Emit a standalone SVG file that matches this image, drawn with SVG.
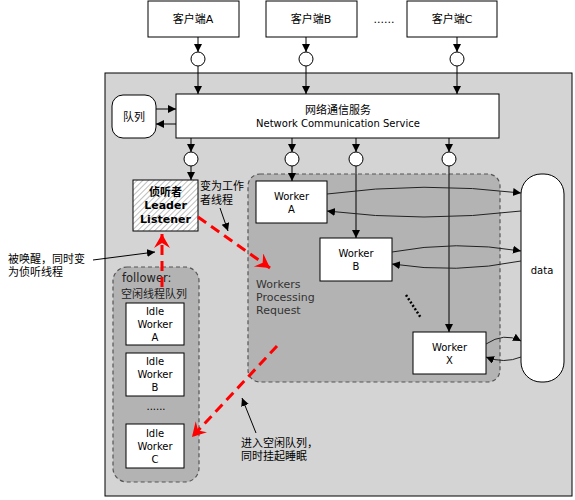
<svg xmlns="http://www.w3.org/2000/svg" width="575" height="500" viewBox="0 0 575 500">
<style>
.t{font-family:"DejaVu Sans","Noto Sans CJK SC",sans-serif;font-size:10px;fill:#000;text-anchor:middle}
.c{font-family:"DejaVu Sans","Noto Sans CJK SC",sans-serif;font-size:11px;fill:#000}
.box{fill:#fff;stroke:#000;stroke-width:1}
.area{fill:#b3b3b3;stroke:#555;stroke-width:1.2;stroke-dasharray:4,3}
.cir{fill:#fff;stroke:#000;stroke-width:1}
.ln{fill:none;stroke:#000;stroke-width:1;marker-end:url(#ah)}
.cv{fill:none;stroke:#222;stroke-width:1;marker-end:url(#ah)}
.red{fill:none;stroke:#f00;stroke-width:3;stroke-dasharray:10,6;marker-end:url(#rh)}
</style>
<defs>
<marker id="ah" markerUnits="userSpaceOnUse" markerWidth="10" markerHeight="10" refX="8" refY="4" orient="auto">
<path d="M0,0 L8,4 L0,8 z" fill="#000"/>
</marker>
<marker id="rh" markerUnits="userSpaceOnUse" markerWidth="20" markerHeight="20" refX="14" refY="8" orient="auto">
<path d="M0,0 L14,8 L0,16 L5,8 z" fill="#f00"/>
</marker>
<pattern id="hatch" patternUnits="userSpaceOnUse" width="4" height="4" patternTransform="rotate(45)">
<rect width="4" height="4" fill="#fff"/>
<line x1="0" y1="0" x2="0" y2="4" stroke="#aaa" stroke-width="1.5"/>
</pattern>
</defs>
<rect width="575" height="500" fill="#fff"/>
<rect id="system" x="105" y="73" width="467" height="423" fill="#d4d4d4" stroke="#000" stroke-width="1"/>
<g id="workers-area">
<rect class="area" x="248" y="174" width="252" height="208" rx="12"/>
<text x="256" y="288" style="font-family:'DejaVu Sans',sans-serif;font-size:11px;fill:#333">Workers</text>
<text x="256" y="301" style="font-family:'DejaVu Sans',sans-serif;font-size:11px;fill:#333">Processing</text>
<text x="256" y="314" style="font-family:'DejaVu Sans',sans-serif;font-size:11px;fill:#333">Request</text>
</g>
<g id="follower-area">
<rect class="area" x="113" y="267" width="86" height="215" rx="14"/>
<text class="c" x="122" y="282" style="font-size:11.5px;fill:#222">follower:</text>
<text class="c" x="121" y="298" style="fill:#222">空闲线程队列</text>
</g>
<g id="clientA"><rect class="box" x="148" y="1" width="91" height="36"/><text class="t" x="193" y="23" style="font-size:11px">客户端A</text></g>
<g id="clientB"><rect class="box" x="266" y="1" width="91" height="36"/><text class="t" x="311" y="23" style="font-size:11px">客户端B</text></g>
<text class="t" x="384" y="23" style="font-size:11px">......</text>
<g id="clientC"><rect class="box" x="407" y="1" width="90" height="36"/><text class="t" x="452" y="23" style="font-size:11px">客户端C</text></g>
<g id="network"><rect class="box" x="176" y="94" width="323" height="44"/>
<text class="t" x="338" y="114" style="font-size:11px">网络通信服务</text>
<text class="t" x="338" y="127">Network Communication Service</text></g>
<g id="queue"><rect class="box" x="112" y="95" width="44" height="43" rx="11"/><text class="t" x="134" y="121" style="font-size:11px">队列</text></g>
<g id="leader"><rect x="133" y="180" width="65" height="51" fill="url(#hatch)" stroke="#000"/>
<text class="t" x="165.5" y="196" style="font-weight:bold;font-size:11px">侦听者</text>
<text class="t" x="165.5" y="209" style="font-weight:bold;font-size:11px">Leader</text>
<text class="t" x="165.5" y="223" style="font-weight:bold;font-size:11px">Listener</text></g>
<g id="workerA"><rect class="box" x="256" y="181" width="71" height="42"/><text class="t" x="291.5" y="200">Worker</text><text class="t" x="291.5" y="213">A</text></g>
<g id="workerB"><rect class="box" x="320" y="238" width="72" height="43"/><text class="t" x="356" y="257">Worker</text><text class="t" x="356" y="270">B</text></g>
<g id="workerX"><rect class="box" x="413" y="332" width="73" height="42"/><text class="t" x="449.5" y="351">Worker</text><text class="t" x="449.5" y="364">X</text></g>
<line x1="406" y1="295" x2="421" y2="318" stroke="#000" stroke-width="2.5" stroke-dasharray="2,2"/>
<g id="data"><rect class="box" x="521" y="174" width="43" height="208" rx="20"/><text class="t" x="542" y="274">data</text></g>
<g id="idleA"><rect class="box" x="126" y="303" width="58" height="42"/><text class="t" x="155" y="315">Idle</text><text class="t" x="155" y="328">Worker</text><text class="t" x="155" y="341">A</text></g>
<g id="idleB"><rect class="box" x="126" y="353" width="58" height="43"/><text class="t" x="155" y="365">Idle</text><text class="t" x="155" y="378">Worker</text><text class="t" x="155" y="391">B</text></g>
<text class="t" x="156" y="410">......</text>
<g id="idleC"><rect class="box" x="126" y="424" width="58" height="44"/><text class="t" x="155" y="437">Idle</text><text class="t" x="155" y="450">Worker</text><text class="t" x="155" y="463">C</text></g>
<g id="circles">
<circle class="cir" cx="198" cy="59" r="7"/>
<circle class="cir" cx="306" cy="59" r="7"/>
<circle class="cir" cx="457" cy="59" r="7"/>
<circle class="cir" cx="191" cy="159" r="7"/>
<circle class="cir" cx="292" cy="159" r="7"/>
<circle class="cir" cx="356" cy="159" r="7"/>
<circle class="cir" cx="449" cy="159" r="7"/>
</g>
<g id="labels">
<text class="c" x="200" y="190">变为工作</text>
<text class="c" x="200" y="204">者线程</text>
<text class="c" x="8" y="263">被唤醒，同时变</text>
<text class="c" x="8" y="276">为侦听线程</text>
<text class="c" x="241" y="447">进入空闲队列，</text>
<text class="c" x="241" y="460">同时挂起睡眠</text>
</g>
<g id="connectors">
<line class="ln" x1="198" y1="37" x2="198" y2="52"/>
<line class="ln" x1="306" y1="37" x2="306" y2="52"/>
<line class="ln" x1="457" y1="37" x2="457" y2="52"/>
<line class="ln" x1="198" y1="66" x2="198" y2="94"/>
<line class="ln" x1="306" y1="66" x2="306" y2="94"/>
<line class="ln" x1="457" y1="66" x2="457" y2="94"/>
<line class="ln" x1="156" y1="109" x2="176" y2="109"/>
<line class="ln" x1="176" y1="124" x2="156" y2="124"/>
<line class="ln" x1="191" y1="138" x2="191" y2="152"/>
<line class="ln" x1="292" y1="138" x2="292" y2="152"/>
<line class="ln" x1="356" y1="138" x2="356" y2="152"/>
<line class="ln" x1="449" y1="138" x2="449" y2="152"/>
<line class="ln" x1="191" y1="166" x2="191" y2="180"/>
<line class="ln" x1="292" y1="166" x2="292" y2="181"/>
<line class="ln" x1="356" y1="166" x2="356" y2="238"/>
<line class="ln" x1="449" y1="166" x2="449" y2="332"/>
<path class="cv" d="M327,194 Q424,181 521,193"/>
<path class="cv" d="M521,211 Q424,223 327,211"/>
<path class="cv" d="M392,252 Q456,240 521,251"/>
<path class="cv" d="M521,261 Q456,274 392,264"/>
<path class="cv" d="M486,344 Q504,332 521,341"/>
<path class="cv" d="M521,357 Q504,364 486,357"/>
<line class="ln" x1="93" y1="260" x2="155" y2="252"/>
<line class="ln" x1="220" y1="208" x2="228" y2="231"/>
<line class="ln" x1="256" y1="433" x2="242" y2="398"/>
<line class="red" x1="162" y1="287" x2="162" y2="234"/>
<line class="red" x1="198" y1="217" x2="270" y2="268"/>
<line class="red" x1="277" y1="346" x2="192" y2="437"/>
</g>
</svg>
